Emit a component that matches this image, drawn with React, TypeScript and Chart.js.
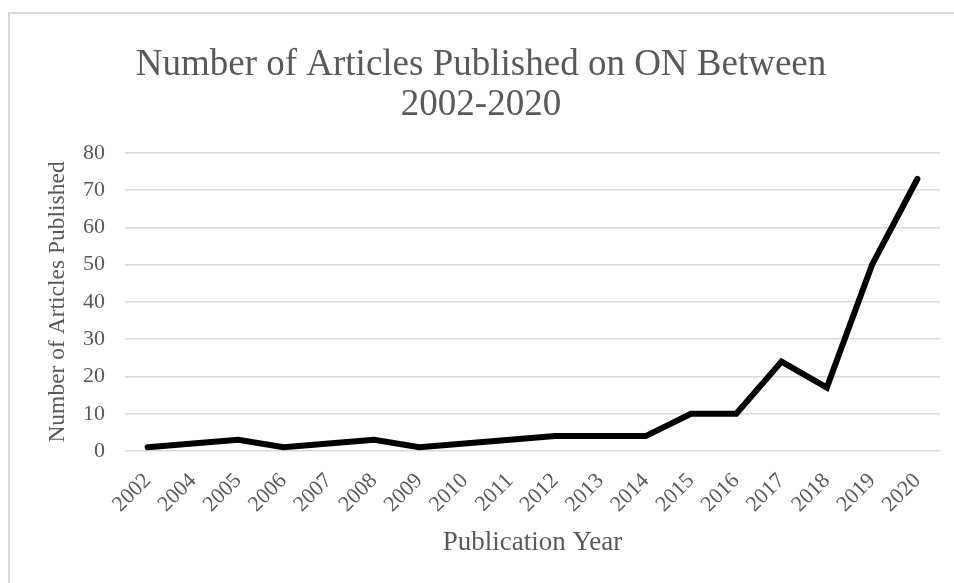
import React, { useEffect, useRef } from "react";
import { Chart, registerables } from "chart.js";

Chart.register(...registerables);

const years = ["2002", "2004", "2005", "2006", "2007", "2008", "2009", "2010", "2011", "2012", "2013", "2014", "2015", "2016", "2017", "2018", "2019", "2020"];
const articles = [1, 2, 3, 1, 2, 3, 1, 2, 3, 4, 4, 4, 10, 10, 24, 17, 50, 73];
const titleLines = ["Number of Articles Published on ON Between", "2002-2020"];
const xTitle = "Publication Year";
const yTitle = "Number of Articles Published";

const FONT = "'Liberation Serif', 'Times New Roman', serif";
const TEXT = "#595959";
const GRID = "#d9d9d9";

export default function App() {
  const ref = useRef<HTMLCanvasElement | null>(null);
  useEffect(() => {
    if (!ref.current) return;
    const chart = new Chart(ref.current, {
      type: "line",
      data: {
        labels: years,
        datasets: [
          {
            data: articles,
            borderColor: "#000000",
            backgroundColor: "#000000",
            borderWidth: 6,
            pointRadius: 0,
            tension: 0,
            borderCapStyle: "round",
            borderJoinStyle: "miter",
          },
        ],
      },
      options: {
        animation: false,
        responsive: false,
        maintainAspectRatio: false,
        layout: { padding: { left: 22, right: 14, top: 0, bottom: 0 } },
        plugins: {
          legend: { display: false },
          tooltip: { enabled: false },
          title: {
            display: true,
            text: titleLines,
            color: TEXT,
            font: { family: FONT, size: 37, weight: "normal", lineHeight: 1.08 },
            padding: { top: 45, bottom: 28 },
          },
        },
        scales: {
          x: {
            offset: true,
            grid: { display: false, drawTicks: false, offset: true },
            border: { display: false },
            ticks: {
              color: TEXT,
              font: { family: FONT, size: 22 },
              maxRotation: 45,
              minRotation: 45,
              padding: 17,
              autoSkip: false,
            },
            title: {
              display: true,
              text: xTitle,
              color: TEXT,
              font: { family: FONT, size: 27, lineHeight: 1.2 },
              padding: { top: 0, bottom: 24 },
            },
            afterFit: (scale: any) => {
              scale.height = 132;
            },
          },
          y: {
            min: 0,
            max: 80,
            grid: { color: GRID, lineWidth: 1.5, drawTicks: false },
            border: { display: false },
            ticks: {
              stepSize: 10,
              color: TEXT,
              font: { family: FONT, size: 22 },
              padding: 20,
            },
            title: {
              display: true,
              text: yTitle,
              color: TEXT,
              font: { family: FONT, size: 23.5, lineHeight: 1.2 },
              padding: { top: 22, bottom: 0 },
            },
            afterFit: (scale: any) => {
              scale.width = 125 - 22;
            },
          },
        },
      },
    });
    return () => chart.destroy();
  }, []);

  return (
    <div style={{ position: "absolute", left: 0, top: 0, width: 954, height: 583, background: "#fff", overflow: "hidden" }}>
      <div
        style={{
          position: "absolute",
          left: 8,
          top: 12,
          width: 960,
          height: 600,
          borderLeft: "2px solid #d9d9d9",
          borderTop: "2px solid #d9d9d9",
          boxSizing: "border-box",
        }}
      />
      <canvas ref={ref} width={954} height={583} style={{ position: "absolute", left: 0, top: 0, width: 954, height: 583 }} />
    </div>
  );
}
